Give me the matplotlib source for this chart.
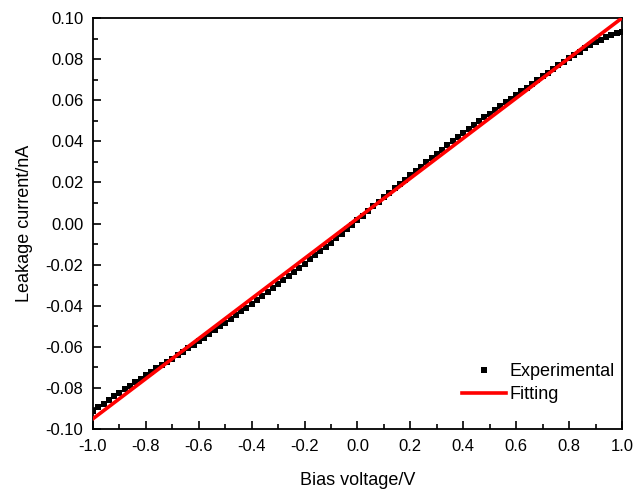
import numpy as np
import matplotlib.pyplot as plt
from matplotlib.ticker import MultipleLocator, FuncFormatter

plt.rcParams['font.family'] = ['Liberation Sans', 'DejaVu Sans']

# Experimental I-V data (bias in V, current in nA), 0.02 V steps
bias = np.round(np.arange(-1.0, 1.0001, 0.02), 2)
current = [
    -0.0912, -0.0894, -0.0876, -0.0859, -0.0841, -0.0823, -0.0805, -0.0789, -0.0771, -0.0755,
    -0.0737, -0.0722, -0.0705, -0.0690, -0.0673, -0.0658, -0.0641, -0.0624, -0.0606, -0.0590,
    -0.0572, -0.0555, -0.0536, -0.0519, -0.0500, -0.0483, -0.0464, -0.0446, -0.0427, -0.0409,
    -0.0390, -0.0372, -0.0353, -0.0334, -0.0315, -0.0296, -0.0276, -0.0256, -0.0235, -0.0216,
    -0.0195, -0.0175, -0.0154, -0.0134, -0.0113, -0.0093, -0.0071, -0.0050, -0.0028, -0.0006,
    0.0015, 0.0038, 0.0060, 0.0083, 0.0105, 0.0128, 0.0149, 0.0171, 0.0192, 0.0214,
    0.0235, 0.0256, 0.0277, 0.0298, 0.0319, 0.0340, 0.0360, 0.0381, 0.0400, 0.0421,
    0.0440, 0.0460, 0.0478, 0.0498, 0.0516, 0.0535, 0.0553, 0.0572, 0.0589, 0.0608,
    0.0625, 0.0644, 0.0661, 0.0680, 0.0697, 0.0716, 0.0733, 0.0752, 0.0769, 0.0788,
    0.0805, 0.0822, 0.0837, 0.0853, 0.0868, 0.0883, 0.0895, 0.0908, 0.0919, 0.0929,
    0.0932,
]

# Linear fit parameters
fit_slope = 0.0975
fit_intercept = 0.0025
fit_x = np.array([-1.0, 1.0])

fig = plt.figure(figsize=(6.44, 4.91), dpi=100)
ax = fig.add_axes([0.1444, 0.1263, 0.8214, 0.837])

ax.plot(bias, current, 's', color='black', markersize=5.0, markeredgewidth=0,
        label='Experimental', zorder=2)
ax.plot(fit_x, fit_slope * fit_x + fit_intercept, '-', color='#ff0000', linewidth=2.6,
        label='Fitting', zorder=3)

ax.set_xlim(-1.0, 1.0)
ax.set_ylim(-0.10, 0.10)
ax.xaxis.set_major_locator(MultipleLocator(0.2))
ax.xaxis.set_minor_locator(MultipleLocator(0.1))
ax.yaxis.set_major_locator(MultipleLocator(0.02))
ax.yaxis.set_minor_locator(MultipleLocator(0.01))
# avoid "-0.00" / "-0.0" labels
ax.xaxis.set_major_formatter(FuncFormatter(lambda v, p: '0.0' if abs(v) < 1e-9 else f'{v:.1f}'))
ax.yaxis.set_major_formatter(FuncFormatter(lambda v, p: '0.00' if abs(v) < 1e-9 else f'{v:.2f}'))

ax.tick_params(which='both', direction='in', top=False, right=False, width=1.2, labelsize=12)
ax.tick_params(which='major', length=5.5, pad=7)
ax.tick_params(which='minor', length=3.5)
for s in ax.spines.values():
    s.set_linewidth(1.3)

ax.set_xlabel('Bias voltage/V', fontsize=13, labelpad=13)
ax.set_ylabel('Leakage current/nA', fontsize=13, labelpad=9)

leg = ax.legend(loc='lower right', bbox_to_anchor=(1.0, 0.045), frameon=False, fontsize=13,
                handlelength=2.4, handletextpad=0.22, labelspacing=0.35, borderaxespad=0,
                markerscale=1.0)

fig.savefig('out.png', dpi=100)
